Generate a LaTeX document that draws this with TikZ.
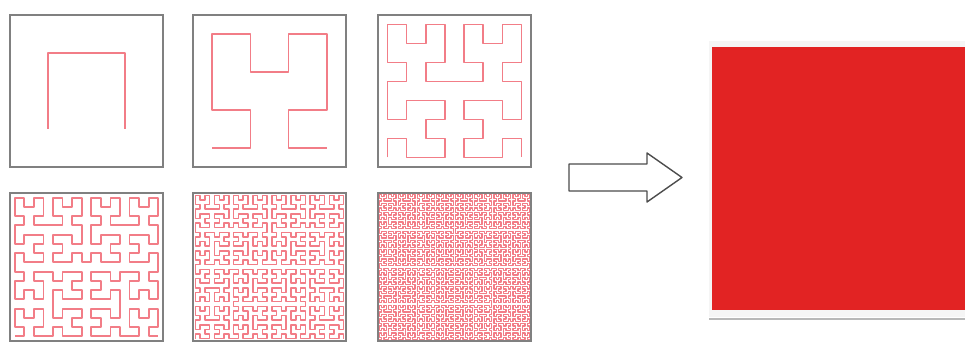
\documentclass[tikz,border=0pt]{standalone}
\usetikzlibrary{lindenmayersystems}
\pgfdeclarelindenmayersystem{Hilbert curve}{
  \rule{A -> +BF-AFA-FB+}
  \rule{B -> -AF+BFB+FA-}
}
\definecolor{curvered}{RGB}{242,125,135}
\definecolor{solidred}{RGB}{226,35,35}
\definecolor{framegray}{RGB}{128,128,128}

\begin{document}
\begin{tikzpicture}[x=1pt,y=1pt,
  frame/.style={draw=framegray,line width=1.3pt},
  curve/.style={draw=curvered,line join=round},
  blockarrow/.style={draw=black!70,fill=white,line width=1.4pt,line join=round},
  shadowline/.style={draw=black!28,line width=2pt}]
\useasboundingbox (0,0) rectangle (965,342);
\clip (0,0) rectangle (965,342);
% six boxes: left x / top y / height / order of the curve / line width
\foreach \bx/\by/\bh/\n/\lw in {10/327/152/1/1.6, 193/327/152/2/1.6, 378/327/152/3/1.6,
                                 10/149/148/4/1.8, 193/149/148/5/1.5, 378/149/148/6/1.3}{
  \pgfmathtruncatemacro{\st}{2^(6-\n)}
  \begin{scope}[shift={(\bx,\by-\bh)},xscale=153/64,yscale=\bh/64]
    \begin{scope}[shift={(\st/2,\st/2)}]
      \draw[curve,line width=\lw pt,
        lindenmayer system={Hilbert curve, axiom=A, order=\n, step=\st pt, angle=90}]
        (0,0) lindenmayer system;
    \end{scope}
    \draw[frame] (0,0) rectangle (64,64);
  \end{scope}
}
% arrow
\draw[blockarrow] (569,178) -- (647,178) -- (647,189) -- (682,164.5)
  -- (647,140) -- (647,151) -- (569,151) -- cycle;
% filled square with its frame and shadow
\fill[black!4] (709,301) rectangle (970,25);
\draw[shadowline] (709,23) -- (970,23);
\fill[solidred] (712,295) rectangle (970,32);
\end{tikzpicture}
\end{document}
